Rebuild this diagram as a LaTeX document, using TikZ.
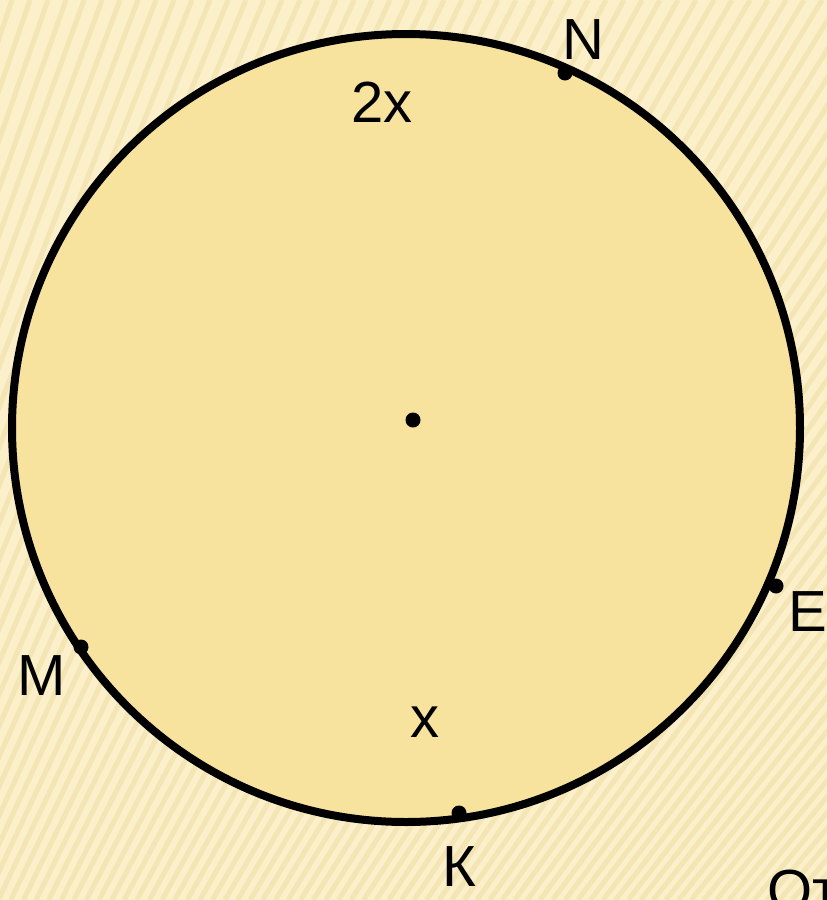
\documentclass[tikz,border=0pt]{standalone}
\usepackage{fontspec}
\setmainfont{Liberation Sans}
\usetikzlibrary{positioning}
\definecolor{cPaper}{HTML}{FCF0CB}
\definecolor{cStripe}{HTML}{EFDCA4}
\definecolor{cDisk}{HTML}{F7E29E}

\begin{document}
\begin{tikzpicture}[x=1pt,y=-1pt,
    lbl/.style={font=\fontsize{58}{64}\selectfont,inner sep=0pt},
    pt/.style={circle,fill=black,inner sep=0pt,minimum size=15pt}]
  \clip (0,0) rectangle (827,900);
  \fill[cPaper] (0,0) rectangle (827,900);
  \foreach \s in {-420,-402,...,1720}{
     \draw[cStripe,line width=5pt,opacity=0.55] (\s,0) -- ({0.7*\s-300},900);}
  % the circle and its centre
  \draw[line width=8pt,fill=cDisk] (406,428) circle (394);
  \node[pt] (O) at (413,420) {};
  % points on the circle
  \node[pt] (N) at (565,73) {};
  \node[pt] (E) at (776,586) {};
  \node[pt] (M) at (81,647) {};
  \node[pt] (K) at (459,813) {};
  \node[lbl] (lN) at (583,40) {N};
  \node[lbl] (lE) at (808,612) {E};
  \node[lbl] (lM) at (42,676) {M};
  \node[lbl] (lK) at (459,867) {К};
  \node[lbl] (a2x) at (382,102) {2x};
  \node[lbl] (ax) at (425,722) {x};
  \node[lbl,anchor=base west] (ot) at (767,910) {От};
\end{tikzpicture}
\end{document}
